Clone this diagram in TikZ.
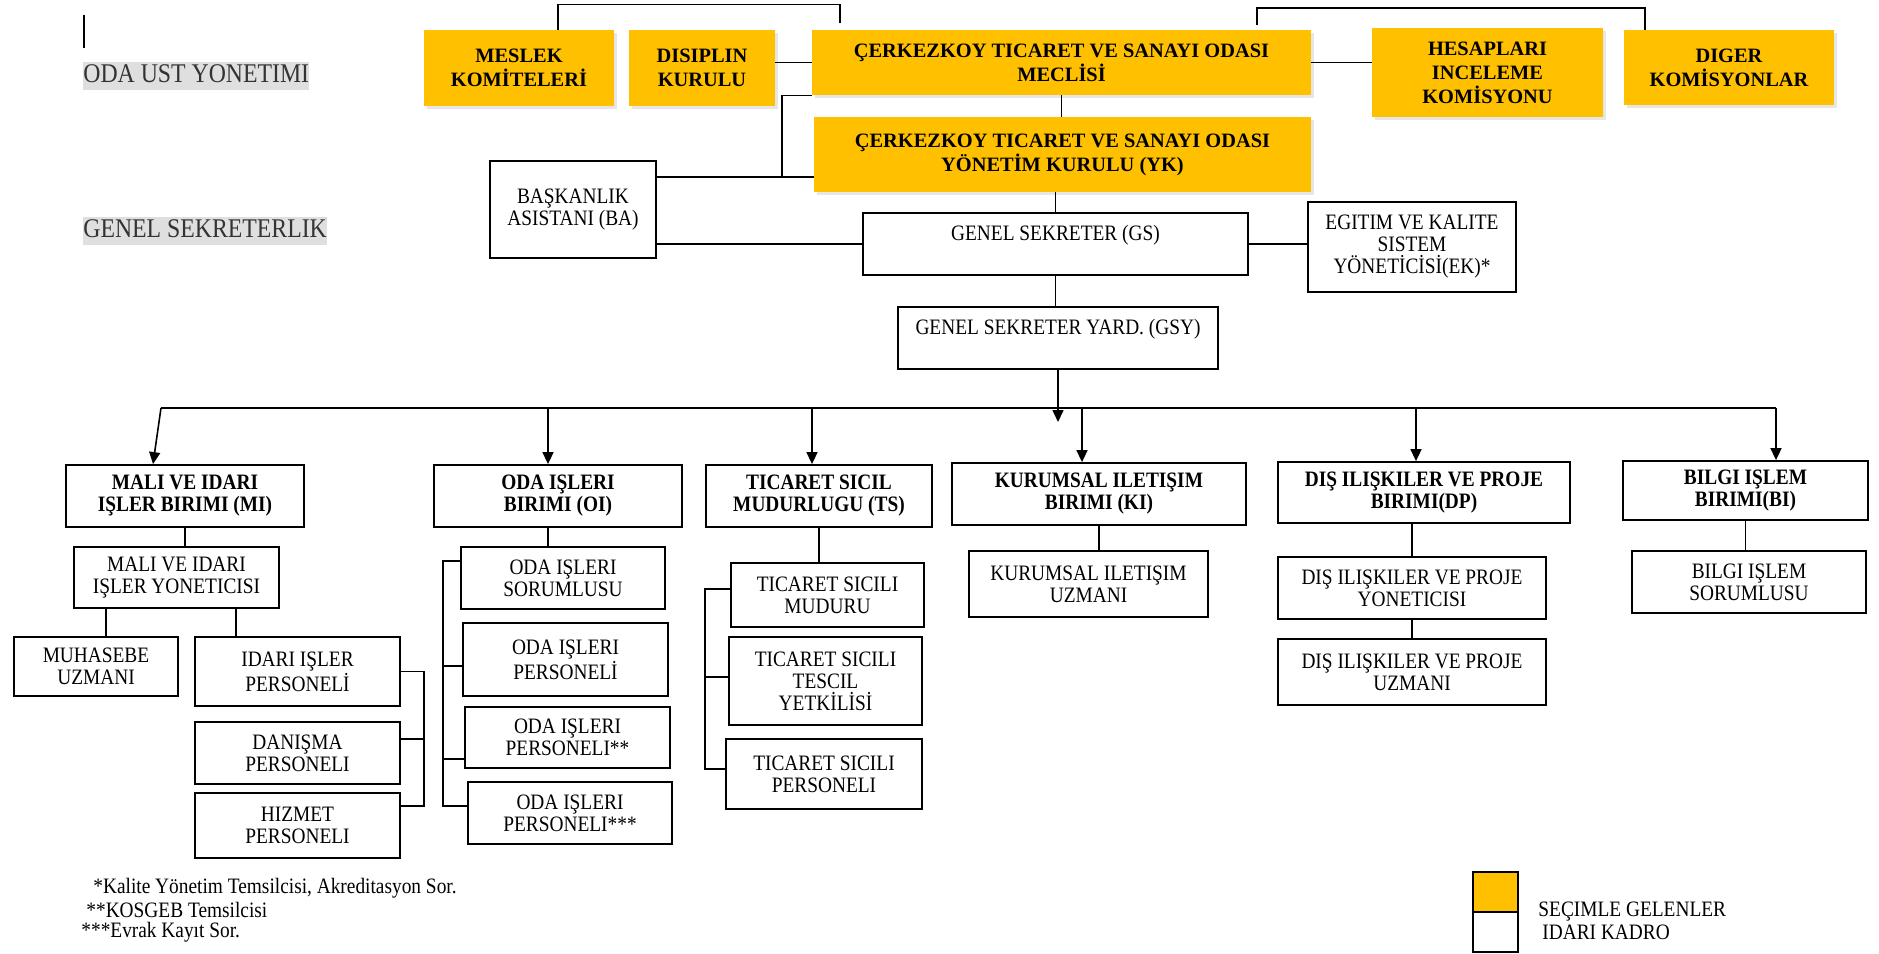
\documentclass[tikz,border=0pt]{standalone}
\usepackage{fontspec}
\setmainfont{Liberation Serif}
\newfontfamily\narrowfont{Liberation Serif}[FakeStretch=0.88]
\usetikzlibrary{arrows.meta,shadows}
\definecolor{gold}{HTML}{FFC000}
\tikzset{
	elected/.style={fill=gold, align=center, inner sep=0pt, font=\bfseries\fontsize{10.2}{12}\selectfont, drop shadow={shadow xshift=1.5pt, shadow yshift=-1.5pt, opacity=0.2}},
	staff/.style={draw, line width=0.9pt, align=center, inner sep=0pt, font=\narrowfont\fontsize{11}{11}\selectfont},
	unit/.style={staff, font=\narrowfont\bfseries\fontsize{11}{11}\selectfont},
	link/.style={line width=0.8pt},
	arr/.style={line width=0.8pt, -{Triangle[width=5.5pt,length=6pt]}},
	heading/.style={anchor=west, fill=gray!25, inner xsep=0pt, inner ysep=1.5pt, text depth=2pt, text=black!80, font=\narrowfont\fontsize{13.5}{14}\selectfont},
	note/.style={anchor=west, inner sep=0pt, font=\narrowfont\fontsize{11}{11}\selectfont}
}
\begin{document}
\begin{tikzpicture}[x=0.5pt, y=-0.5pt]
	\useasboundingbox (0,0) rectangle (1879,953);

	\draw[link] (84,15) -- (84,48);
	\node[heading] (odaust) at (83,76) {ODA UST YONETIMI};
	\node[heading] (gensek) at (83,231) {GENEL SEKRETERLIK};

	\node[elected, minimum width=95pt, minimum height=38pt] (meslek) at (519,68) {MESLEK\\KOMİTELERİ};
	\node[elected, minimum width=73pt, minimum height=38pt] (disiplin) at (702,68) {DISIPLIN\\KURULU};
	\node[elected, minimum width=249.5pt, minimum height=32.5pt] (meclis) at (1061.5,62.5) {ÇERKEZKOY TICARET VE SANAYI ODASI\\MECLİSİ};
	\node[elected, minimum width=248.5pt, minimum height=37.5pt] (yk) at (1062.5,154.5) {ÇERKEZKOY TICARET VE SANAYI ODASI\\YÖNETİM KURULU (YK)};
	\node[elected, minimum width=115.5pt, minimum height=44.5pt] (hesap) at (1487.5,72.5) {HESAPLARI\\INCELEME\\KOMİSYONU};
	\node[elected, minimum width=105pt, minimum height=37.5pt] (diger) at (1729,67.5) {DIGER\\KOMİSYONLAR};

	\node[staff, minimum width=83pt, minimum height=48.5pt] (ba) at (573,209.5) {BAŞKANLIK\\ASISTANI (BA)};
	\node[staff, minimum width=192.5pt, minimum height=31pt] (gs) at (1055.5,244) {GENEL SEKRETER (GS)\\~};
	\node[staff, minimum width=104pt, minimum height=45pt] (ek) at (1412,247) {EGITIM VE KALITE\\SISTEM\\YÖNETİCİSİ(EK)*};
	\node[staff, minimum width=160pt, minimum height=31pt] (gsy) at (1058,338) {GENEL SEKRETER YARD. (GSY)\\~};

	\node[unit, minimum width=119pt, minimum height=31pt] (mi) at (185,496) {MALI VE IDARI\\IŞLER BIRIMI (MI)};
	\node[unit, minimum width=124pt, minimum height=31pt] (oi) at (558,496) {ODA IŞLERI\\BIRIMI (OI)};
	\node[unit, minimum width=113pt, minimum height=31pt] (ts) at (819,496) {TICARET SICIL\\MUDURLUGU (TS)};
	\node[unit, minimum width=147pt, minimum height=31pt] (ki) at (1099,494) {KURUMSAL ILETIŞIM\\BIRIMI (KI)};
	\node[unit, minimum width=146pt, minimum height=30.5pt] (dp) at (1424,492.5) {DIŞ ILIŞKILER VE PROJE\\BIRIMI(DP)};
	\node[unit, minimum width=122.5pt, minimum height=29.5pt] (bi) at (1745.5,490.5) {BILGI IŞLEM\\BIRIMI(BI)};

	\node[staff, minimum width=102.5pt, minimum height=30.5pt] (miyon) at (176.5,577.5) {MALI VE IDARI\\IŞLER YONETICISI};
	\node[staff, minimum width=82pt, minimum height=29.5pt] (muhasebe) at (96,666.5) {MUHASEBE\\UZMANI};
	\node[staff, minimum width=102.5pt, minimum height=34.5pt] (idari) at (297.5,671.5) {IDARI IŞLER\\PERSONELİ};
	\node[staff, minimum width=102.5pt, minimum height=31pt] (danisma) at (297.5,753) {DANIŞMA\\PERSONELI};
	\node[staff, minimum width=102.5pt, minimum height=32.5pt] (hizmet) at (297.5,825.5) {HIZMET\\PERSONELI};

	\node[staff, minimum width=102pt, minimum height=31pt] (oisor) at (563,578) {ODA IŞLERI\\SORUMLUSU};
	\node[staff, minimum width=102.5pt, minimum height=36.5pt] (oiper) at (565.5,659.5) {ODA IŞLERI\\PERSONELİ};
	\node[staff, minimum width=102.5pt, minimum height=30.5pt] (oiper2) at (567.5,737.5) {ODA IŞLERI\\PERSONELI**};
	\node[staff, minimum width=102pt, minimum height=31pt] (oiper3) at (570,813) {ODA IŞLERI\\PERSONELI***};

	\node[staff, minimum width=96.5pt, minimum height=32pt] (tsmud) at (827.5,595) {TICARET SICILI\\MUDURU};
	\node[staff, minimum width=96.5pt, minimum height=44pt] (tstes) at (825.5,681) {TICARET SICILI\\TESCIL\\YETKİLİSİ};
	\node[staff, minimum width=98pt, minimum height=35pt] (tsper) at (824,774) {TICARET SICILI\\PERSONELI};

	\node[staff, minimum width=119.5pt, minimum height=33pt] (kiuz) at (1088.5,584) {KURUMSAL ILETIŞIM\\UZMANI};
	\node[staff, minimum width=134pt, minimum height=31pt] (dpyon) at (1412,588) {DIŞ ILIŞKILER VE PROJE\\YONETICISI};
	\node[staff, minimum width=134pt, minimum height=33pt] (dpuz) at (1412,672) {DIŞ ILIŞKILER VE PROJE\\UZMANI};
	\node[staff, minimum width=117pt, minimum height=31pt] (bisor) at (1749,582) {BILGI IŞLEM\\SORUMLUSU};

	\coordinate (meclisL) at (840,23);
	\coordinate (meclisR) at (1257,25);
	\coordinate (bajoint) at (782,177);
	\coordinate (gsytip) at (1058,422);
	\coordinate (busL) at (161,408);
	\coordinate (busR) at (1776,408);
	\coordinate (idbr) at (424,0);
	\coordinate (oibr) at (443,0);
	\coordinate (tsbr) at (705,0);

	\draw[link] ([xshift=19.5pt]meslek.north) -- ++(0,-25) -| (meclisL);
	\draw[link] (meclisR) -- ++(0,-17) -| ([xshift=-42pt]diger.north);
	\draw[link] (disiplin.east |- meclis.west) -- (meclis.west);
	\draw[link] (meclis.east) -- (meclis.east -| hesap.west);
	\draw[link] (meclis.south) -- (meclis.south |- yk.north);
	\draw[link] (meclis.south west) -| (bajoint);
	\draw[link] ([yshift=16.25pt]ba.east) -- ([yshift=16.25pt]ba.east -| yk.west);
	\draw[link] (ba.east |- gs.west) -- (gs.west);
	\draw[link] (gs.north |- yk.south) -- (gs.north);
	\draw[link] (gs.east) -- (gs.east -| ek.west);
	\draw[link] (gs.south) -- (gs.south |- gsy.north);

	\draw[arr] (gsy.south) -- (gsytip);
	\draw[link] (busL) -- (busR);
	\draw[arr] (busL) -- ([xshift=-16pt]mi.north);
	\foreach \n/\s in {oi/-5pt, ts/-3.5pt, ki/-8.5pt, dp/-4pt, bi/15.25pt}
		\draw[arr] ([xshift=\s]\n.north |- busL) -- ([xshift=\s]\n.north);

	\draw[link] (mi.south) -- (mi.south |- miyon.north);
	\draw[link] ([xshift=5pt]muhasebe.north |- miyon.south) -- ([xshift=5pt]muhasebe.north);
	\draw[link] ([xshift=-30.75pt]idari.north |- miyon.south) -- ([xshift=-30.75pt]idari.north);
	\draw[link] (idari.east) -| ([yshift=9.75pt]hizmet.east -| idbr) -- ([yshift=9.75pt]hizmet.east);
	\draw[link] ([yshift=7pt]danisma.east) -- ([yshift=7pt]danisma.east -| idbr);

	\draw[link] ([xshift=-5pt]oi.south) -- ([xshift=-5pt]oi.south |- oisor.north);
	\draw[link] ([yshift=8.5pt]oisor.west) -| ([yshift=3.5pt]oiper3.west -| oibr) -- ([yshift=3.5pt]oiper3.west);
	\draw[link] ([yshift=-3.25pt]oiper.west) -- ([yshift=-3.25pt]oiper.west -| oibr);
	\draw[link] ([yshift=-10.75pt]oiper2.west) -- ([yshift=-10.75pt]oiper2.west -| oibr);

	\draw[link] (ts.south) -- (ts.south |- tsmud.north);
	\draw[link] ([yshift=3pt]tsmud.west) -| ([yshift=2.5pt]tsper.west -| tsbr) -- ([yshift=2.5pt]tsper.west);
	\draw[link] ([yshift=2pt]tstes.west) -- ([yshift=2pt]tstes.west -| tsbr);

	\draw[link] (ki.south) -- (ki.south |- kiuz.north);
	\draw[link] (dpyon.north |- dp.south) -- (dpyon.north);
	\draw[link] (dpyon.south) -- (dpuz.north);
	\draw[link] (bi.south) -- (bi.south |- bisor.north);

	\node[note] (fn1) at (93,888) {*Kalite Yönetim Temsilcisi, Akreditasyon Sor.};
	\node[note] (fn2) at (86,910) {**KOSGEB Temsilcisi};
	\node[note] (fn3) at (81,932) {***Evrak Kayıt Sor.};

	\node[staff, fill=gold, minimum width=22.5pt, minimum height=20pt] (legsec) at (1495.5,892) {};
	\node[staff, minimum width=22.5pt, minimum height=20pt] (legidari) at (1495.5,932) {};
	\node[note] (legsectxt) at (1538,912) {SEÇIMLE GELENLER};
	\node[note] (legidaritxt) at (1542,932) {IDARI KADRO};
\end{tikzpicture}
\end{document}
